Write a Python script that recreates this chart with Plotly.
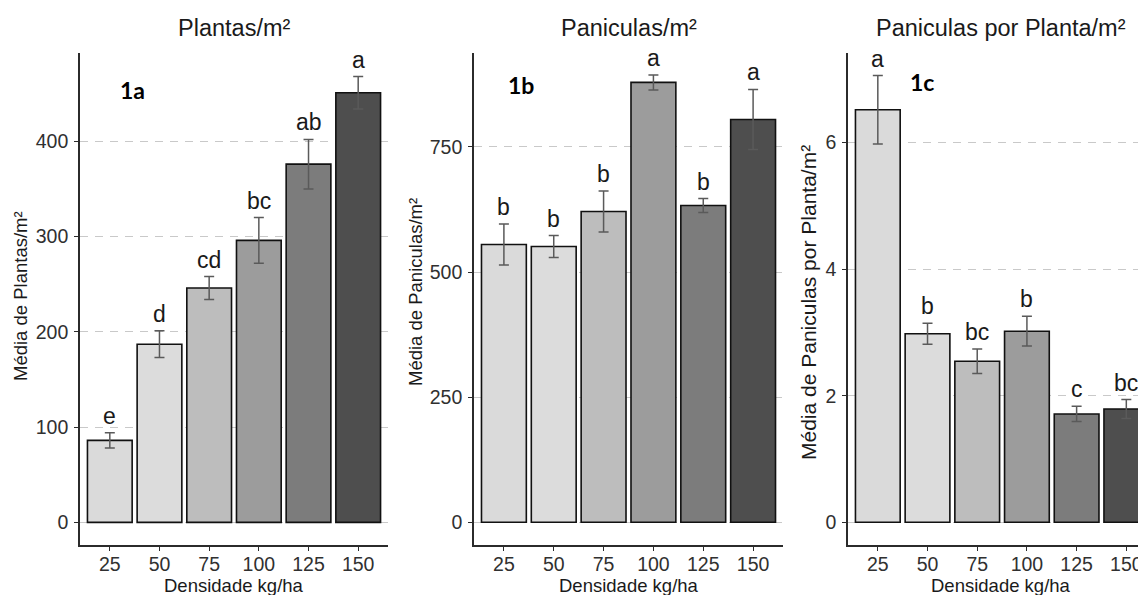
import plotly.graph_objects as go

categories = ["25", "50", "75", "100", "125", "150"]
bar_colors = ["#dadada", "#dcdcdc", "#bdbdbd", "#9c9c9c", "#7c7c7c", "#4e4e4e"]

plantas_mean = [86, 187, 246, 296, 376, 451]
plantas_se = [8, 14, 12, 24, 26, 17]
plantas_letters = ["e", "d", "cd", "bc", "ab", "a"]

paniculas_mean = [555, 551, 621, 879, 633, 805]
paniculas_se = [41, 22, 41, 15, 14, 60]
paniculas_letters = ["b", "b", "b", "a", "b", "a"]

ppp_mean = [6.52, 2.98, 2.545, 3.02, 1.712, 1.79]
ppp_se = [0.54, 0.165, 0.195, 0.235, 0.12, 0.15]
ppp_letters = ["a", "b", "bc", "b", "c", "bc"]

titles = ["Plantas/m²", "Paniculas/m²", "Paniculas por Planta/m²"]
ytitles = ["Média de Plantas/m²", "Média de Paniculas/m²", "Média de Paniculas por Planta/m²"]
panel_labels = ["1a", "1b", "1c"]
xtitle = "Densidade kg/ha"
yticks = [[0, 100, 200, 300, 400], [0, 250, 500, 750], [0, 2, 4, 6]]

# the page body has an 8px margin; figure coordinates = viewport coords - 8
OFF = 8
W, H = 1146 - OFF, 595 - OFF
FONT = "Liberation Sans, Arial, sans-serif"


def px(v):
    return (v - OFF) / W


def py(v):
    return (H - (v - OFF)) / H


panels = [
    dict(mean=plantas_mean, se=plantas_se, letters=plantas_letters,
         xdom=(80, 388), xr=[-0.6, 5.6], yr=[-23.8, 492.7],
         title_x=234, ytitle_x=20, ytitle_y=296, ytitle_size=18.5, label=(132, 90)),
    dict(mean=paniculas_mean, se=paniculas_se, letters=paniculas_letters,
         xdom=(474, 783), xr=[-0.6, 5.6], yr=[-45.4, 937.8],
         title_x=628.5, ytitle_x=415, ytitle_y=292, ytitle_size=18.5, label=(521, 85)),
    dict(mean=ppp_mean, se=ppp_se, letters=ppp_letters,
         xdom=(848, 1146), xr=[-0.6, 5.396], yr=[-0.359, 7.417],
         title_x=1001, ytitle_x=808, ytitle_y=303, ytitle_size=21, label=(922, 82)),
]

fig = go.Figure()
annotations = []
ydom = [py(545), py(53)]

for i, p in enumerate(panels):
    n = "" if i == 0 else str(i + 1)
    xa, ya = "x" + n, "y" + n
    fig.add_trace(go.Bar(
        x=categories, y=p["mean"], xaxis=xa, yaxis=ya, width=0.9,
        marker=dict(color=bar_colors, line=dict(color="#111111", width=1.6)),
        error_y=dict(type="data", array=p["se"], color="#5a5a5a", thickness=1.5, width=5),
        showlegend=False, hoverinfo="x+y",
    ))
    axis_common = dict(
        showline=True, linecolor="#2b2b2b", linewidth=1.6,
        ticks="outside", ticklen=4, tickcolor="#2b2b2b", tickwidth=1.2,
        tickfont=dict(family=FONT, size=19.5, color="#303030"),
    )
    fig.update_layout(**{
        ("xaxis" + n): dict(
            domain=[px(p["xdom"][0]), min(px(p["xdom"][1]), 1.0)], anchor=ya,
            type="category", range=p["xr"], showgrid=False, zeroline=False,
            ticklabelstandoff=-3, **axis_common),
        ("yaxis" + n): dict(
            domain=ydom, anchor=xa, range=p["yr"], tickvals=yticks[i],
            showgrid=True, gridcolor="#c9c9c9", gridwidth=1.2, griddash="8px,7px",
            zeroline=False, ticklabelstandoff=2, **axis_common),
    })
    for k, (m, s, l) in enumerate(zip(p["mean"], p["se"], p["letters"])):
        annotations.append(dict(
            x=k, y=m + s, xref=xa, yref=ya, text=l, showarrow=False,
            xanchor="center", yanchor="bottom", yshift=2,
            font=dict(family=FONT, size=23, color="#1a1a1a")))
    annotations.append(dict(
        x=px(p["title_x"]), y=py(28), xref="paper", yref="paper",
        text=titles[i], showarrow=False, xanchor="center", yanchor="middle",
        font=dict(family=FONT, size=23.5, color="#1a1a1a")))
    annotations.append(dict(
        x=px(p["title_x"]), y=py(585), xref="paper", yref="paper",
        text=xtitle, showarrow=False, xanchor="center", yanchor="middle",
        font=dict(family=FONT, size=18.5, color="#1a1a1a")))
    annotations.append(dict(
        x=px(p["ytitle_x"]), y=py(p["ytitle_y"]), xref="paper", yref="paper",
        text=ytitles[i], showarrow=False, xanchor="center", yanchor="middle",
        textangle=-90, font=dict(family=FONT, size=p["ytitle_size"], color="#1a1a1a")))
    annotations.append(dict(
        x=px(p["label"][0]), y=py(p["label"][1]), xref="paper", yref="paper",
        text="<b>" + panel_labels[i] + "</b>", showarrow=False,
        xanchor="center", yanchor="middle",
        font=dict(family="Lato, Carlito, sans-serif", size=23, color="#000000")))

fig.update_layout(
    width=W, height=H, margin=dict(l=0, r=0, t=0, b=0),
    paper_bgcolor="white", plot_bgcolor="white",
    bargap=0.1, annotations=annotations,
)

fig.write_html("out.html")
